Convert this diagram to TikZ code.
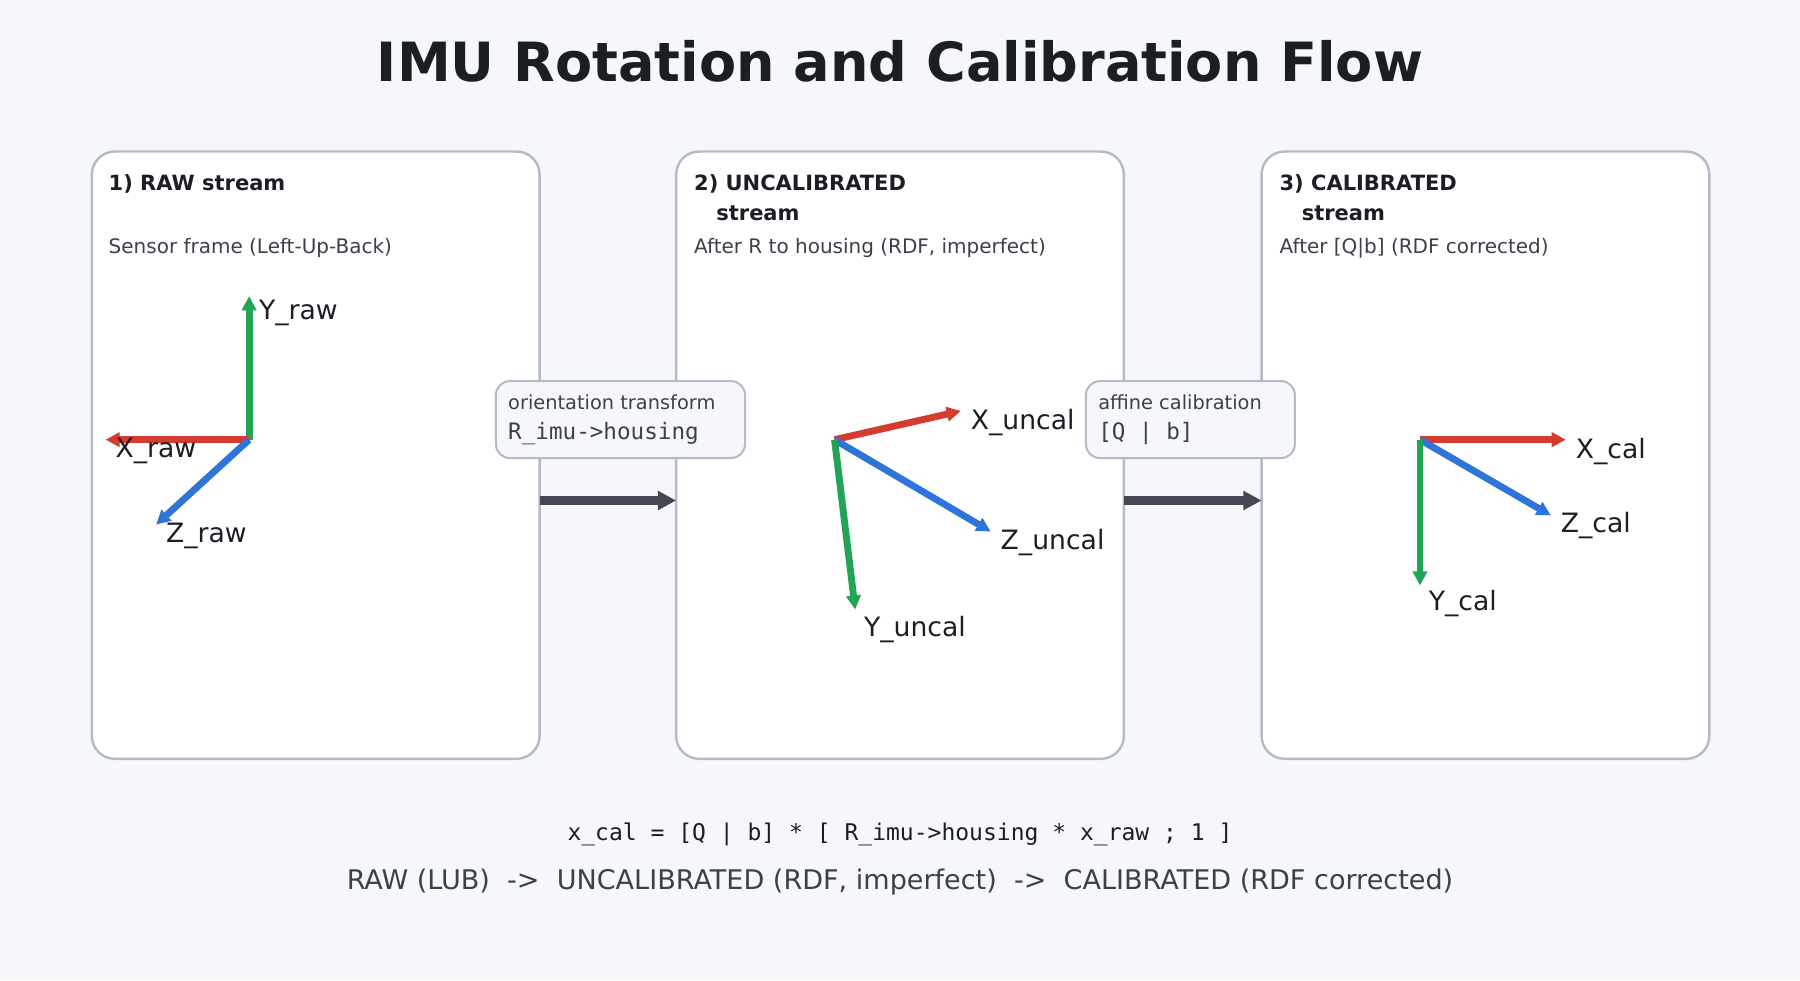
\documentclass[tikz,border=0pt]{standalone}
\usepackage{fontspec}
\setmainfont{DejaVu Sans}
\setmonofont{DejaVu Sans Mono}
\usetikzlibrary{arrows.meta}
\definecolor{bgcol}{HTML}{F6F7FB}
\definecolor{edgecol}{HTML}{B5BAC8}
\definecolor{inkcol}{HTML}{1B1E24}
\definecolor{subcol}{HTML}{3C4048}
\definecolor{flowcol}{HTML}{454852}
\definecolor{axred}{HTML}{D63B30}
\definecolor{axgreen}{HTML}{22A455}
\definecolor{axblue}{HTML}{2F74D8}
\tikzset{
  panel/.style={draw=edgecol, line width=0.6pt, fill=white, rounded corners=2mm},
  tag/.style={draw=edgecol, line width=0.5pt, fill=bgcol, rounded corners=1.2mm},
  head/.style={anchor=north west, font=\fontsize{5.2}{7.5}\selectfont\bfseries, text=inkcol, align=left, inner sep=0pt},
  sub/.style={anchor=north west, font=\fontsize{4.95}{6}\selectfont, text=subcol, inner sep=0pt},
  axis/.style={line width=1.7pt, -{Triangle[length=3.5pt,width=3.5pt]}},
  lab/.style={anchor=west, font=\fontsize{6.6}{8}\selectfont, text=inkcol, inner sep=0pt},
  flow/.style={line width=2.2pt, draw=flowcol, -{Triangle[length=4.5pt,width=4.5pt]}},
  taglab/.style={anchor=north west, font=\fontsize{4.8}{6}\selectfont, text=subcol, inner sep=0pt}
}
\begin{document}
\begin{tikzpicture}[x=0.01cm,y=-0.01cm]
\fill[bgcol] (0,0) rectangle (1568,854);
\useasboundingbox (0,0) rectangle (1568,854);
\node[font=\fontsize{13.4}{16}\selectfont\bfseries, text=inkcol] (title) at (784,53) {IMU Rotation and Calibration Flow};
% panels
\draw[panel] (80,132) rectangle (470,661);
\draw[panel] (589,132) rectangle (979,661);
\draw[panel] (1099,132) rectangle (1489,661);
\node[head] (h1) at (94,151) {1) RAW stream};
\node[head] (h2) at (604,151) {2) UNCALIBRATED\\\hspace{5.5pt}stream};
\node[head] (h3) at (1114,151) {3) CALIBRATED\\\hspace{5.5pt}stream};
\node[sub] (s1) at (94,207) {Sensor frame (Left-Up-Back)};
\node[sub] (s2) at (604,207) {After R to housing (RDF, imperfect)};
\node[sub] (s3) at (1114,207) {After [Q|b] (RDF corrected)};
% flow arrows
\coordinate (f1a) at (470,436); \coordinate (f1b) at (589,436);
\coordinate (f2a) at (979,436); \coordinate (f2b) at (1099,436);
\draw[flow] (f1a) -- (f1b);
\draw[flow] (f2a) -- (f2b);
\draw[tag] (432,332) rectangle (649,399);
\node[taglab] (t1) at (442,343) {orientation transform};
\node[taglab, font=\fontsize{5.6}{7}\ttfamily] (t1b) at (442,367) {R\_imu->housing};
\draw[tag] (946,332) rectangle (1128,399);
\node[taglab] (t2) at (956,343) {affine calibration};
\node[taglab, font=\fontsize{5.6}{7}\ttfamily] (t2b) at (956,367) {[Q | b]};
% raw axes
\coordinate (o1) at (217,383);
\draw[axis, axgreen] (o1) -- (217,258);
\draw[axis, axred] (o1) -- (92,383);
\draw[axis, axblue] (o1) -- (136,457);
\node[lab] (yr) at (225,273) {Y\_raw};
\node[lab] (xr) at (100,393) {X\_raw};
\node[lab] (zr) at (144,467) {Z\_raw};
% uncalibrated axes
\coordinate (o2) at (727,383);
\draw[axis, axred] (o2) -- (837,358);
\draw[axis, axblue] (o2) -- (863,463);
\draw[axis, axgreen] (o2) -- (745,531);
\node[lab] (xu) at (845,368) {X\_uncal};
\node[lab] (zu) at (871,473) {Z\_uncal};
\node[lab] (yu) at (752,548) {Y\_uncal};
% calibrated axes
\coordinate (o3) at (1237,383);
\draw[axis, axred] (o3) -- (1364,383);
\draw[axis, axblue] (o3) -- (1351,449);
\draw[axis, axgreen] (o3) -- (1237,510);
\node[lab] (xc) at (1372,393) {X\_cal};
\node[lab] (zc) at (1359,458) {Z\_cal};
\node[lab] (yc) at (1244,526) {Y\_cal};
% footer
\node[font=\fontsize{5.7}{7}\ttfamily, text=inkcol] (eq) at (784,727) {x\_cal = [Q | b] * [ R\_imu->housing * x\_raw ; 1 ]};
\node[font=\fontsize{6.7}{8}\selectfont, text=subcol] (chain) at (784,768) {RAW (LUB)\ \ ->\ \ UNCALIBRATED (RDF, imperfect)\ \ ->\ \ CALIBRATED (RDF corrected)};
\end{tikzpicture}
\end{document}
